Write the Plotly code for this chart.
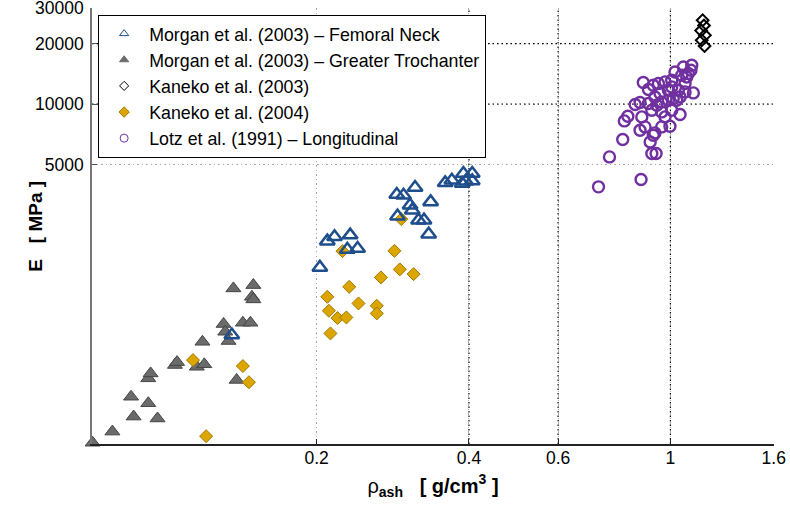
import math
import plotly.graph_objects as go

# Morgan et al. (2003) - Femoral Neck
fn_x = [0.203, 0.210, 0.217, 0.233, 0.230, 0.241, 0.288, 0.297, 0.313, 0.306, 0.309, 0.289,
        0.336, 0.318, 0.326, 0.333, 0.359, 0.370, 0.390, 0.388, 0.406, 0.406, 0.394, 0.136]
fn_y = [1537, 2077, 2182, 2225, 1889, 1910, 3545, 3517, 3842, 3137, 2962, 2766,
        3257, 2642, 2642, 2250, 4050, 4177, 4510, 4022, 4510, 4143, 4129, 708]

# Morgan et al. (2003) - Greater Trochanter
gt_x = [0.0722, 0.079, 0.087, 0.097, 0.086, 0.093, 0.093, 0.094, 0.105, 0.106, 0.116, 0.120,
        0.119, 0.131, 0.132, 0.134, 0.139, 0.137, 0.150, 0.149, 0.150, 0.143, 0.148]
gt_y = [206, 234, 278, 272, 349, 324, 431, 456, 502, 519, 492, 506,
        655, 803, 735, 661, 423, 1208, 1255, 1097, 1065, 815, 815]

# Kaneko et al. (2003)
k03_x = [1.158, 1.165, 1.150, 1.170, 1.153, 1.168]
k03_y = [26120, 24580, 23200, 21990, 20770, 19430]

# Kaneko et al. (2004)
k04_x = [0.114, 0.143, 0.147, 0.121, 0.225, 0.210, 0.2115, 0.220, 0.229, 0.232, 0.242, 0.213,
         0.263, 0.263, 0.268, 0.285, 0.292, 0.311, 0.294]
k04_y = [531, 496, 412, 222, 1852, 1097, 935, 860, 866, 1230, 1017, 721,
         990, 907, 1370, 1858, 1502, 1423, 2673]

# Lotz et al. (1991) - Longitudinal
lotz_x = [0.721, 0.875, 0.758, 0.805, 0.811, 0.824, 0.852, 0.871, 0.884, 0.905, 0.871, 0.891,
          0.878, 0.912, 0.925, 0.932, 0.919, 0.937, 0.961, 0.998, 1.045, 0.919, 0.940, 0.961,
          0.991, 1.013, 0.947, 0.976, 1.006, 1.037, 1.069, 1.110, 1.021, 1.061, 1.102, 1.077,
          1.069, 0.932, 0.905, 0.976, 1.006, 0.961, 0.991, 0.954, 0.925, 1.029, 1.045, 1.085,
          1.098, 1.053, 1.006]
lotz_y = [3869, 4211, 5455, 6659, 8239, 8695, 9942, 10174, 12794, 11806, 7406, 7692,
          8625, 6478, 6995, 7181, 5671, 5671, 7692, 7753, 8866, 9313, 9863, 10242,
          10444, 10650, 12647, 12882, 13134, 11714, 11487, 11356, 14444, 15296, 15596, 13641,
          12647, 10846, 10058, 8625, 9313, 9135, 11714, 11278, 12402, 10444, 10846, 14182,
          14730, 13910, 12165]

x_ticks = [0.2, 0.4, 0.6, 1, 1.6]
x_ticklabels = ["0.2", "0.4", "0.6", "1", "1.6"]
y_ticks = [5000, 10000, 20000, 30000]
y_ticklabels = ["5000", "10000", "20000", "30000"]
x_range = [0.0720, 1.602]
y_range = [203, 30060]
dark_x_grid = [0.4, 0.6, 1]
dark_y_grid = [10000, 20000]

names = ["Morgan et al. (2003) – Femoral Neck",
         "Morgan et al. (2003) – Greater Trochanter",
         "Kaneko et al. (2003)",
         "Kaneko et al. (2004)",
         "Lotz et al. (1991) – Longitudinal"]

BLUE = "#1F4E8C"
GRAY = "#6B6B6B"
GRAY_EDGE = "#454545"
GOLD = "#DCA500"
GOLD_EDGE = "#A07A00"
PURPLE = "#7030A0"
FONT = "Arial, Liberation Sans, sans-serif"

fig = go.Figure()

# darker grid lines
for gx in dark_x_grid:
    fig.add_trace(go.Scatter(x=[gx, gx], y=y_range, mode="lines",
                             line=dict(color="black", width=1.2, dash="1.5px,3px"),
                             showlegend=False, hoverinfo="skip"))
for gy in dark_y_grid:
    fig.add_trace(go.Scatter(x=x_range, y=[gy, gy], mode="lines",
                             line=dict(color="black", width=1.2, dash="1.5px,3px"),
                             showlegend=False, hoverinfo="skip"))

styles = [
    dict(symbol="triangle-up-open", size=13, color=BLUE, line=dict(color=BLUE, width=2.5)),
    dict(symbol="triangle-up", size=13, color=GRAY, line=dict(color=GRAY_EDGE, width=1)),
    dict(symbol="diamond-open", size=9, color="black", line=dict(color="black", width=2)),
    dict(symbol="diamond", size=10, color=GOLD, line=dict(color=GOLD_EDGE, width=1)),
    dict(symbol="circle-open", size=11, color=PURPLE, line=dict(color=PURPLE, width=2.4)),
]
legend_styles = [
    dict(symbol="triangle-up-open", size=8, color=BLUE, line=dict(color=BLUE, width=1)),
    dict(symbol="triangle-up", size=8, color=GRAY, line=dict(color=GRAY, width=1)),
    dict(symbol="diamond-open", size=7, color="black", line=dict(color="black", width=1)),
    dict(symbol="diamond", size=8, color=GOLD, line=dict(color=GOLD_EDGE, width=1)),
    dict(symbol="circle-open", size=8, color=PURPLE, line=dict(color=PURPLE, width=1)),
]

data = [(gt_x, gt_y, 1), (k04_x, k04_y, 3), (fn_x, fn_y, 0), (lotz_x, lotz_y, 4), (k03_x, k03_y, 2)]
for xs, ys, i in data:
    fig.add_trace(go.Scatter(x=xs, y=ys, mode="markers", marker=styles[i],
                             showlegend=False, cliponaxis=False, name=names[i]))

for i in range(5):
    fig.add_trace(go.Scatter(x=[None], y=[None], mode="markers", marker=legend_styles[i],
                             name=names[i], showlegend=True))

fig.update_layout(
    width=790, height=511,
    margin=dict(l=92, r=16, t=8, b=67),
    paper_bgcolor="white", plot_bgcolor="white",
    font=dict(family=FONT, size=17.5, color="black"),
    legend=dict(x=0.009, y=0.985, xanchor="left", yanchor="top",
                bgcolor="white", bordercolor="black", borderwidth=1,
                font=dict(size=17.8), tracegroupgap=0, itemwidth=40),
    showlegend=True,
    annotations=[dict(text="<b>E\u00a0\u00a0\u00a0[\u00a0MPa\u00a0]</b>", textangle=-90,
                      xref="paper", yref="paper", x=-0.084, y=0.5,
                      xanchor="center", yanchor="middle", showarrow=False,
                      font=dict(size=19, family=FONT))],
)
fig.update_xaxes(type="log", range=[math.log10(v) for v in x_range], automargin=False,
                 tickvals=x_ticks, ticktext=x_ticklabels, ticklabeloverflow="allow",
                 showgrid=True, gridcolor="#AAAAAA", griddash="1.5px,3px", gridwidth=1,
                 showline=True, linecolor="#222222", linewidth=1.5,
                 ticks="inside", ticklen=5, tickcolor="#222222", ticklabelstandoff=-3,
                 zeroline=False,
                 title=dict(text="ρ<sub><b>ash</b></sub>\u00a0\u00a0\u00a0<b>[\u00a0g/cm<sup>3</sup>\u00a0]</b>",
                            font=dict(size=20), standoff=12))
fig.update_yaxes(type="log", range=[math.log10(v) for v in y_range], automargin=False,
                 tickvals=y_ticks, ticktext=y_ticklabels, ticklabeloverflow="allow",
                 showgrid=True, gridcolor="#AAAAAA", griddash="1.5px,3px", gridwidth=1,
                 showline=True, linecolor="#777777", linewidth=1.5,
                 ticks="inside", ticklen=5, tickcolor="#555555", ticklabelstandoff=3,
                 zeroline=False)

fig.write_html("out.html", config={"displayModeBar": False},
               post_script="document.body.style.margin='0px';document.body.style.padding='0px';")
